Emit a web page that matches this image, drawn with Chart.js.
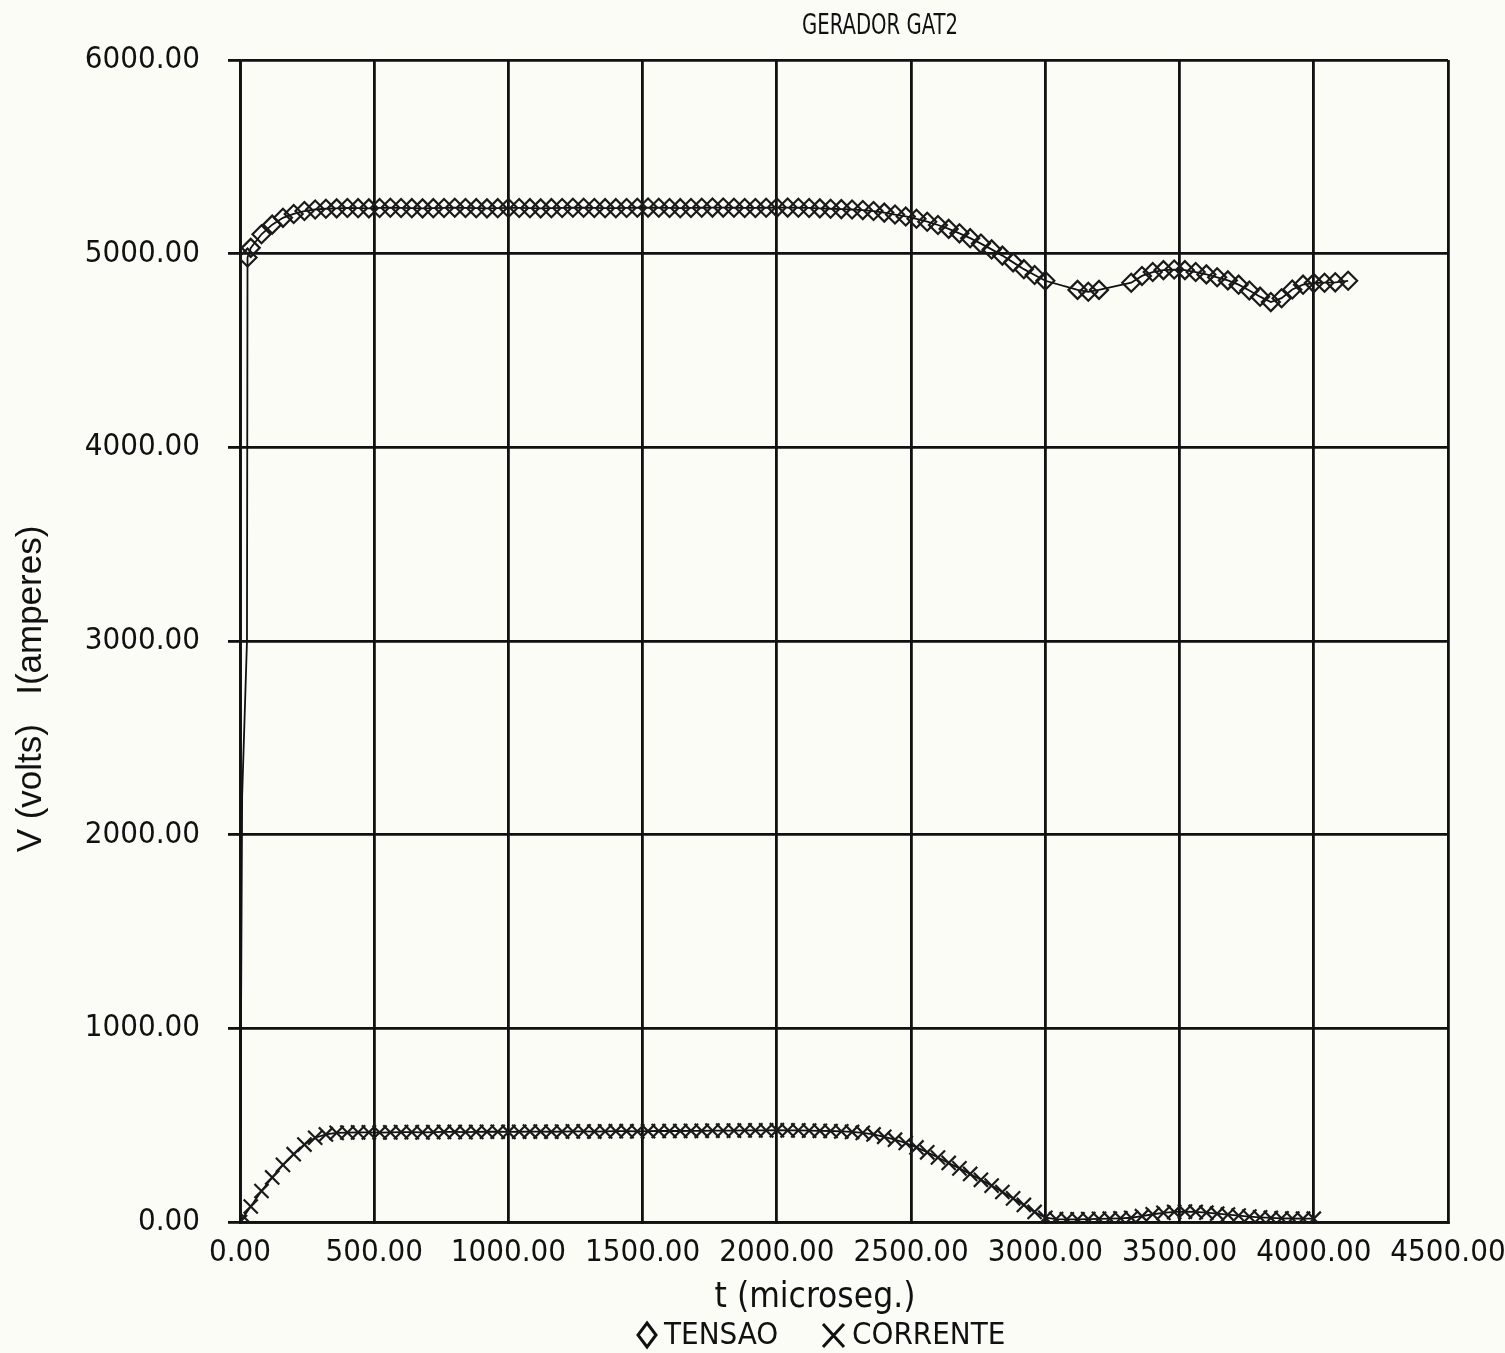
<!DOCTYPE html>
<html>
<head>
<meta charset="utf-8">
<script src="https://cdn.jsdelivr.net/npm/chart.js@4/dist/chart.umd.min.js"></script>
<style>
  html, body { margin: 0; padding: 0; background: #fcfcf7; }
  #wrap { width: 1505px; height: 1353px; }
</style>
</head>
<body>
<div id="wrap"><canvas id="grafico" width="1505" height="1353"></canvas></div>
<script>
// tensao (volts) vs tempo (microseg.)
const tensaoT = [0, 8, 26, 28,
  40, 80, 120, 160, 200, 240, 280, 320,
  360, 400, 440, 480, 520, 560, 600, 640, 680, 720,
  760, 800, 840, 880, 920, 960, 1000, 1040, 1080, 1120,
  1160, 1200, 1240, 1280, 1320, 1360, 1400, 1440, 1480, 1520,
  1560, 1600, 1640, 1680, 1720, 1760, 1800, 1840, 1880, 1920,
  1960, 2000, 2040, 2080, 2120, 2160, 2200, 2240, 2280,
  2320, 2360, 2400, 2440, 2480, 2520, 2560, 2600, 2640, 2680,
  2720, 2760, 2800, 2840, 2880, 2920, 2960, 3000,
  3120, 3160, 3200,
  3320, 3360, 3400, 3440, 3480, 3520, 3560, 3600, 3640, 3680,
  3720, 3760, 3800, 3840, 3880, 3920, 3960, 4000, 4040, 4080,
  4128];
const tensaoV = [0, 2200, 3000, 4980,
  5030, 5100, 5150, 5185, 5205, 5220, 5228, 5232,
  5234, 5236, 5235, 5234, 5236, 5237, 5236, 5235, 5234, 5235,
  5236, 5237, 5236, 5235, 5234, 5235, 5236, 5236, 5235, 5234,
  5235, 5236, 5237, 5237, 5236, 5235, 5235, 5236, 5237, 5238,
  5237, 5236, 5235, 5236, 5237, 5238, 5238, 5237, 5236, 5236,
  5237, 5238, 5238, 5237, 5236, 5234, 5232, 5230, 5228,
  5225, 5220, 5212, 5202, 5192, 5180, 5165, 5148, 5128, 5105,
  5080, 5052, 5022, 4990, 4955, 4920, 4890, 4860,
  4813, 4803, 4813,
  4850, 4885, 4905, 4915, 4918, 4915, 4905, 4893, 4878, 4862,
  4840, 4810, 4778, 4750, 4770, 4815, 4840, 4848, 4850, 4852,
  4860];

// corrente (amperes) vs tempo (microseg.)
const correnteT = [0, 40, 80, 120, 160, 200, 240, 280, 320, 360,
  400, 440, 480, 520, 560, 600, 640, 680, 720, 760,
  800, 840, 880, 920, 960, 1000, 1040, 1080, 1120, 1160,
  1200, 1240, 1280, 1320, 1360, 1400, 1440, 1480, 1520, 1560,
  1600, 1640, 1680, 1720, 1760, 1800, 1840, 1880, 1920, 1960,
  2000, 2040, 2080, 2120, 2160, 2200, 2240, 2280,
  2320, 2360, 2400, 2440, 2480, 2520, 2560, 2600, 2640, 2680,
  2720, 2760, 2800, 2840, 2880, 2920, 2960, 3000,
  3040, 3080, 3120, 3160, 3200, 3240, 3280, 3320, 3360, 3400,
  3440, 3480, 3520, 3560, 3600, 3640, 3680, 3720, 3760, 3800,
  3840, 3880, 3920, 3960, 4000];
const correnteI = [0, 80, 160, 230, 295, 350, 400, 435, 452, 460,
  462, 463, 463, 462, 463, 464, 464, 463, 464, 465,
  465, 464, 465, 466, 466, 465, 466, 467, 467, 466,
  467, 468, 468, 467, 468, 469, 469, 468, 469, 470,
  470, 470, 471, 471, 472, 472, 472, 473, 473, 473,
  474, 473, 473, 472, 471, 470, 468, 465,
  460, 452, 440, 425, 408, 385, 360, 333, 305, 277,
  248, 218, 188, 155, 122, 88, 52, 22,
  15, 14, 14, 15, 16, 17, 19, 22, 30, 40,
  47, 52, 54, 52, 48, 43, 38, 33, 28, 24,
  21, 19, 18, 17, 17];

const titulo = 'GERADOR GAT2';
const tituloX = 't (microseg.)';
const tituloY = 'V (volts)   I(amperes)';
const legendas = ['TENSAO', 'CORRENTE'];

const fonteNum = "'DejaVu Sans Condensed', 'Liberation Sans Narrow', 'DejaVu Sans', sans-serif";
const tinta = '#111';

function pontos(xs, ys) {
  return xs.map((x, i) => ({ x: x, y: ys[i] }));
}

// title, axis labels, legend and paper background
const extras = {
  id: 'extras',
  beforeDraw(chart) {
    const ctx = chart.ctx;
    ctx.save();
    ctx.fillStyle = '#fcfcf7';
    ctx.fillRect(0, 0, chart.width, chart.height);
    ctx.restore();
  },
  afterDraw(chart) {
    const ctx = chart.ctx;
    ctx.save();
    ctx.fillStyle = tinta;
    ctx.strokeStyle = tinta;
    ctx.textBaseline = 'middle';
    ctx.textAlign = 'center';

    // narrow plotter-style title
    ctx.save();
    ctx.translate(880, 27);
    ctx.scale(0.78, 1);
    ctx.font = "28px " + fonteNum;
    ctx.fillText(titulo, 0, 0);
    ctx.restore();

    ctx.font = "35px " + fonteNum;
    ctx.fillText(tituloX, 815, 1298);

    // y axis label
    ctx.save();
    ctx.translate(31, 689);
    ctx.rotate(-Math.PI / 2);
    ctx.font = "35px 'Liberation Sans', Arial, sans-serif";
    ctx.fillText(tituloY, 0, 0);
    ctx.restore();

    // legend
    ctx.font = "31px " + fonteNum;
    ctx.textAlign = 'left';
    ctx.lineWidth = 3;
    ctx.beginPath();
    ctx.moveTo(647, 1323); ctx.lineTo(656, 1335); ctx.lineTo(647, 1347); ctx.lineTo(638, 1335); ctx.closePath();
    ctx.stroke();
    ctx.fillText(legendas[0], 664, 1336);
    ctx.beginPath();
    ctx.moveTo(823, 1324); ctx.lineTo(844, 1347);
    ctx.moveTo(844, 1324); ctx.lineTo(823, 1347);
    ctx.stroke();
    ctx.fillText(legendas[1], 852, 1336);
    ctx.restore();
  }
};

const ctx = document.getElementById('grafico').getContext('2d');
const grafico = new Chart(ctx, {
  type: 'line',
  data: {
    datasets: [{
      label: legendas[0],
      data: pontos(tensaoT, tensaoV),
      borderColor: tinta,
      borderWidth: 1.8,
      pointStyle: 'rectRot',
      pointRadius: c => (c.dataIndex === 1 || c.dataIndex === 2) ? 0 : 9,
      pointBorderWidth: 2.2,
      pointBorderColor: '#1a1a1a',
      pointBackgroundColor: 'rgba(0,0,0,0)',
      tension: 0,
      fill: false
    }, {
      label: legendas[1],
      data: pontos(correnteT, correnteI),
      borderColor: tinta,
      borderWidth: 1.8,
      pointStyle: 'crossRot',
      pointRadius: 10,
      pointBorderWidth: 2.2,
      pointBorderColor: '#1a1a1a',
      pointBackgroundColor: 'rgba(0,0,0,0)',
      tension: 0,
      fill: false
    }]
  },
  options: {
    responsive: false,
    animation: false,
    layout: { padding: { left: 0, right: 57, top: 60, bottom: 39 } },
    plugins: {
      legend: { display: false },
      title: { display: false },
      tooltip: { enabled: false }
    },
    scales: {
      x: {
        type: 'linear',
        min: 0,
        max: 4500,
        ticks: {
          stepSize: 500,
          color: tinta,
          padding: 12,
          maxRotation: 0,
          autoSkip: false,
          font: { family: fonteNum, size: 31 },
          callback: v => v.toFixed(2)
        },
        grid: { color: tinta, lineWidth: 2.8, tickLength: 0 },
        border: { color: tinta, width: 2.8 },
        afterFit(scale) {
          scale.height = 92;
          scale.paddingLeft = 0;
          scale.paddingRight = 0;
        }
      },
      y: {
        min: 0,
        max: 6000,
        ticks: {
          stepSize: 1000,
          color: tinta,
          padding: 28,
          font: { family: fonteNum, size: 31 },
          callback: v => v.toFixed(2)
        },
        grid: { color: tinta, lineWidth: 2.8, tickLength: 12 },
        border: { color: tinta, width: 2.8 },
        afterFit(scale) {
          scale.width = 240;
          scale.paddingTop = 0;
          scale.paddingBottom = 0;
        }
      }
    }
  },
  plugins: [extras]
});
</script>
</body>
</html>
